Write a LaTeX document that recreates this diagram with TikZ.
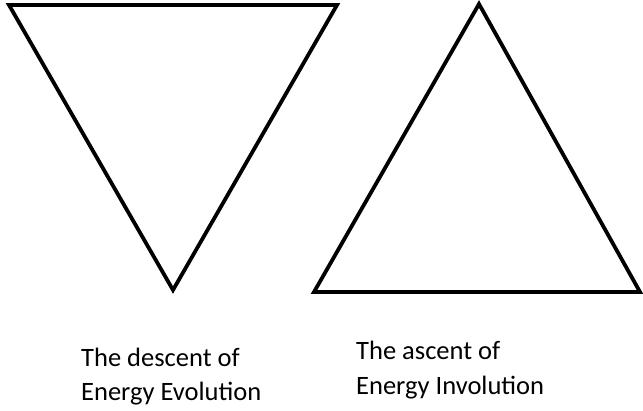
\documentclass[tikz,border=0pt]{standalone}
\usepackage{fontspec}
\setmainfont{Carlito}
\begin{document}
\begin{tikzpicture}[x=1pt,y=-1pt,
  tri/.style={draw=black,line width=3.8pt,line join=miter},
  lbl/.style={anchor=base west,inner sep=0pt,font=\fontsize{26.5}{32}\selectfont}]
\useasboundingbox (0,0) rectangle (643,411);
\coordinate (dA) at (9,5);
\coordinate (dB) at (337,5);
\coordinate (dC) at (173,290);
\draw[tri] (dA) -- (dB) -- (dC) -- cycle;
\coordinate (uA) at (479,4);
\coordinate (uB) at (640,292);
\coordinate (uC) at (314,292);
\draw[tri] (uA) -- (uB) -- (uC) -- cycle;
\node[lbl] (d1) at (81,367) {The descent of};
\node[lbl] (d2) at (81,401) {Energy Evolution};
\node[lbl] (a1) at (356,360) {The ascent of};
\node[lbl] (a2) at (356,395) {Energy Involution};
\end{tikzpicture}
\end{document}
